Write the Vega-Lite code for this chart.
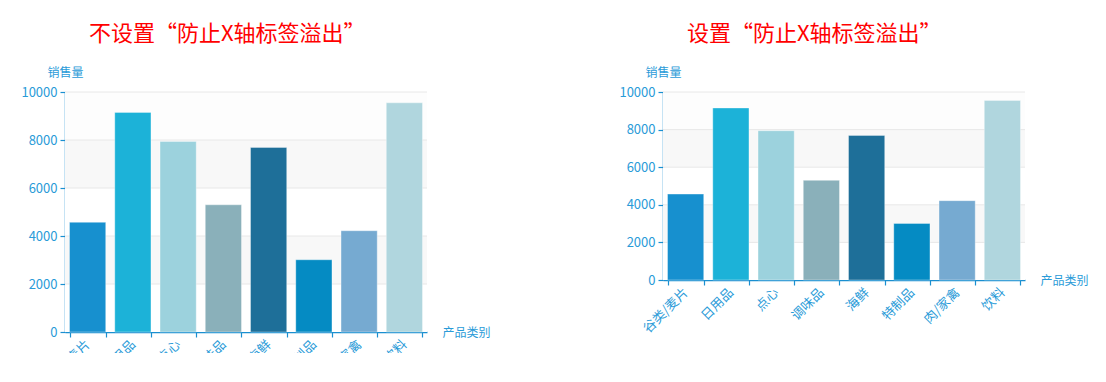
{
  "$schema": "https://vega.github.io/schema/vega-lite/v6.json",
  "padding": {"left": 20, "top": 23, "right": 0, "bottom": -35},
  "background": "white",
  "spacing": 127,
  "datasets": {
    "sales": [
      {"category": "谷类/麦片", "sales": 4570},
      {"category": "日用品", "sales": 9150},
      {"category": "点心", "sales": 7940},
      {"category": "调味品", "sales": 5300},
      {"category": "海鲜", "sales": 7690},
      {"category": "特制品", "sales": 3010},
      {"category": "肉/家禽", "sales": 4220},
      {"category": "饮料", "sales": 9550}
    ],
    "bands": [
      {"from": 0, "to": 2000, "shade": "a"},
      {"from": 2000, "to": 4000, "shade": "b"},
      {"from": 4000, "to": 6000, "shade": "a"},
      {"from": 6000, "to": 8000, "shade": "b"},
      {"from": 8000, "to": 10000, "shade": "c"}
    ],
    "grid": [
      {"level": 2000}, {"level": 4000}, {"level": 6000}, {"level": 8000}, {"level": 10000}
    ]
  },
  "hconcat": [
    {
      "width": 362,
      "height": 240,
      "title": {"text": "不设置“防止X轴标签溢出”", "anchor": "start", "frame": "group", "dx": 24, "offset": 20, "color": "#ff0000", "fontSize": 22, "font": "Noto Sans CJK SC", "fontWeight": "normal"},
      "resolve": {"scale": {"color": "independent"}},
      "layer": [
        {
          "data": {"name": "bands"},
          "mark": {"type": "rect"},
          "encoding": {
            "y": {"field": "from", "type": "quantitative", "scale": {"domain": [0, 10000]},
              "axis": {"title": "销售量", "titleAngle": 0, "titleX": 0, "titleY": -20, "titleAlign": "center", "titleBaseline": "middle", "values": [0, 2000, 4000, 6000, 8000, 10000], "grid": false, "format": "d", "labelPadding": 3}},
            "y2": {"field": "to"},
            "color": {"field": "shade", "type": "nominal", "scale": {"domain": ["a", "b", "c"], "range": ["#ffffff", "#f8f8f8", "#fdfdfd"]}, "legend": null}
          }
        },
        {
          "data": {"name": "grid"},
          "mark": {"type": "rule", "color": "#e8e8e8", "strokeWidth": 1},
          "encoding": {
            "y": {"field": "level", "type": "quantitative",
              "axis": {"title": "销售量", "titleAngle": 0, "titleX": 0, "titleY": -20, "titleAlign": "center", "titleBaseline": "middle", "values": [0, 2000, 4000, 6000, 8000, 10000], "grid": false, "format": "d", "labelPadding": 3}}
          }
        },
        {
          "data": {"name": "sales"},
          "mark": {"type": "bar", "stroke": "#ffffff", "strokeOpacity": 0.35, "strokeWidth": 1},
          "encoding": {
            "x": {"field": "category", "type": "nominal", "sort": null, "scale": {"paddingInner": 0.2, "paddingOuter": 0.1},
              "axis": {"title": "产品类别", "titleX": 377, "titleY": 0, "titleAlign": "left", "titleBaseline": "middle", "labelAngle": -45, "labelAlign": "right", "labelBaseline": "middle", "tickBand": "extent", "labelPadding": 5}},
            "y": {"field": "sales", "type": "quantitative", "scale": {"domain": [0, 10000]},
              "axis": {"title": "销售量", "titleAngle": 0, "titleX": 0, "titleY": -20, "titleAlign": "center", "titleBaseline": "middle", "values": [0, 2000, 4000, 6000, 8000, 10000], "grid": false, "format": "d", "labelPadding": 3}},
            "color": {"field": "category", "type": "nominal", "sort": null, "scale": {"range": ["#1790cf", "#1cb2d8", "#9cd2dd", "#8ab0ba", "#1e6f99", "#058bc3", "#76aad1", "#b0d6de"]}, "legend": null}
          }
        }
      ]
    },
    {
      "width": 362,
      "height": 188,
      "title": {"text": "设置“防止X轴标签溢出”", "anchor": "start", "frame": "group", "dx": 24, "offset": 20, "color": "#ff0000", "fontSize": 22, "font": "Noto Sans CJK SC", "fontWeight": "normal"},
      "resolve": {"scale": {"color": "independent"}},
      "layer": [
        {
          "data": {"name": "bands"},
          "mark": {"type": "rect"},
          "encoding": {
            "y": {"field": "from", "type": "quantitative", "scale": {"domain": [0, 10000]},
              "axis": {"title": "销售量", "titleAngle": 0, "titleX": 0, "titleY": -20, "titleAlign": "center", "titleBaseline": "middle", "values": [0, 2000, 4000, 6000, 8000, 10000], "grid": false, "format": "d", "labelPadding": 3}},
            "y2": {"field": "to"},
            "color": {"field": "shade", "type": "nominal", "scale": {"domain": ["a", "b", "c"], "range": ["#ffffff", "#f8f8f8", "#fdfdfd"]}, "legend": null}
          }
        },
        {
          "data": {"name": "grid"},
          "mark": {"type": "rule", "color": "#e8e8e8", "strokeWidth": 1},
          "encoding": {
            "y": {"field": "level", "type": "quantitative",
              "axis": {"title": "销售量", "titleAngle": 0, "titleX": 0, "titleY": -20, "titleAlign": "center", "titleBaseline": "middle", "values": [0, 2000, 4000, 6000, 8000, 10000], "grid": false, "format": "d", "labelPadding": 3}}
          }
        },
        {
          "data": {"name": "sales"},
          "mark": {"type": "bar", "stroke": "#ffffff", "strokeOpacity": 0.35, "strokeWidth": 1},
          "encoding": {
            "x": {"field": "category", "type": "nominal", "sort": null, "scale": {"paddingInner": 0.2, "paddingOuter": 0.1},
              "axis": {"title": "产品类别", "titleX": 377, "titleY": 0, "titleAlign": "left", "titleBaseline": "middle", "labelAngle": -45, "labelAlign": "right", "labelBaseline": "middle", "tickBand": "extent", "labelPadding": 5}},
            "y": {"field": "sales", "type": "quantitative", "scale": {"domain": [0, 10000]},
              "axis": {"title": "销售量", "titleAngle": 0, "titleX": 0, "titleY": -20, "titleAlign": "center", "titleBaseline": "middle", "values": [0, 2000, 4000, 6000, 8000, 10000], "grid": false, "format": "d", "labelPadding": 3}},
            "color": {"field": "category", "type": "nominal", "sort": null, "scale": {"range": ["#1790cf", "#1cb2d8", "#9cd2dd", "#8ab0ba", "#1e6f99", "#058bc3", "#76aad1", "#b0d6de"]}, "legend": null}
          }
        }
      ]
    }
  ],
  "config": {
    "view": {"stroke": null},
    "font": "Noto Sans CJK SC",
    "axis": {
      "domainColor": "#1a8fd0",
      "domainWidth": 1.5,
      "tickColor": "#1a8fd0",
      "tickWidth": 1.2,
      "tickSize": 5,
      "labelColor": "#2a9bd8",
      "titleColor": "#2a9bd8",
      "labelFont": "Noto Sans CJK SC",
      "titleFont": "Noto Sans CJK SC",
      "labelFontSize": 13,
      "titleFontSize": 12,
      "titleFontWeight": "normal"
    }
  }
}
